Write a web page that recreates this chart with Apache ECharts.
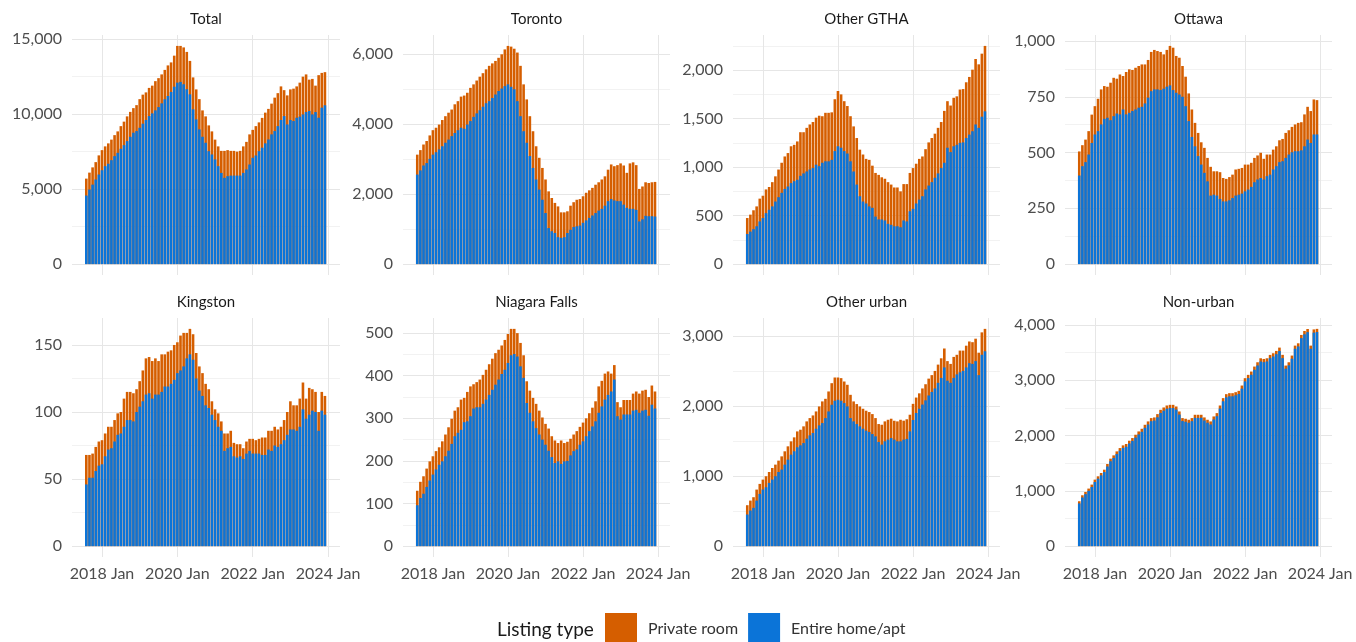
<!DOCTYPE html>
<html>
<head>
<meta charset="utf-8">
<title>Short-term rental listings by listing type</title>
<script src="https://cdn.jsdelivr.net/npm/echarts@6/dist/echarts.min.js"></script>
<style>
  html, body { margin: 0; padding: 0; background: #ffffff; }
  #chart { width: 1356px; height: 642px; }
</style>
</head>
<body>
<div id="chart"></div>
<script>
// Monthly active listings, Aug 2017 - Dec 2023.
const firstYear = 2017;
const firstMonth = 8;

const regionNames = ['Total', 'Toronto', 'Other GTHA', 'Ottawa', 'Kingston', 'Niagara Falls', 'Other urban', 'Non-urban'];
const seriesNames = ['Private room', 'Entire home/apt'];
const xTickLabels = ['2018 Jan', '2020 Jan', '2022 Jan', '2024 Jan'];
const yTickStep = [5000, 2000, 500, 250, 50, 100, 1000, 1000];

// All listings (height of each full bar) and entire-home listings (lower part).
const allTotal = [5700, 6100, 6450, 6800, 7250, 7600, 7850, 8050, 8300, 8600,
  8850, 9200, 9500, 9850, 10150, 10400, 10600, 11000, 11300, 11450,
  11750, 11900, 12200, 12400, 12650, 12950, 13250, 13450, 13900, 14550,
  14550, 14450, 14150, 13550, 12450, 11650, 11000, 10250, 9850, 9250,
  8850, 8300, 7850, 7550, 7550, 7600, 7550, 7550, 7500, 7550,
  7850, 8150, 8650, 8950, 9200, 9450, 9750, 10100, 10350, 10700,
  11100, 11400, 11850, 11600, 11250, 11650, 11700, 11850, 12100, 12500,
  12650, 12300, 12350, 11900, 12600, 12750, 12800];
const entireTotal = [4570, 4970, 5300, 5640, 5970, 6260, 6530, 6690, 6930, 7200,
  7420, 7690, 7930, 8200, 8490, 8760, 8870, 9090, 9360, 9610,
  9870, 10050, 10250, 10470, 10720, 10990, 11210, 11480, 11830, 12100,
  12150, 11990, 11660, 11320, 10320, 9650, 8980, 8490, 8090, 7530,
  7310, 6980, 6530, 6080, 5750, 5860, 5900, 5900, 5900, 5900,
  6080, 6310, 6640, 7090, 7240, 7530, 7760, 8050, 8310, 8650,
  8870, 9200, 9610, 9870, 9310, 9610, 9540, 9760, 9830, 9980,
  10140, 10210, 9980, 10140, 9760, 10430, 10590];

const allToronto = [3130, 3260, 3420, 3520, 3680, 3830, 3900, 3990, 4120, 4230,
  4330, 4420, 4570, 4660, 4790, 4820, 4900, 5040, 5140, 5250,
  5360, 5460, 5570, 5670, 5740, 5810, 5900, 6000, 6140, 6240,
  6220, 6160, 6050, 5670, 5140, 4710, 4230, 3800, 3370, 3040,
  2750, 2420, 2080, 1890, 1750, 1650, 1480, 1480, 1510, 1670,
  1770, 1840, 1860, 1940, 2040, 2110, 2180, 2270, 2340, 2420,
  2510, 2700, 2850, 2800, 2830, 2880, 2820, 2610, 2880, 2910,
  2830, 2150, 2220, 2340, 2320, 2340, 2350];
const entireToronto = [2560, 2680, 2820, 2890, 3010, 3130, 3200, 3280, 3370, 3470,
  3560, 3660, 3750, 3830, 3900, 3870, 3990, 4090, 4210, 4310,
  4400, 4500, 4600, 4660, 4750, 4850, 4950, 5020, 5090, 5140,
  5070, 5000, 4660, 4230, 3800, 3470, 3090, 2750, 2420, 2130,
  1840, 1460, 1030, 940, 890, 770, 750, 770, 890, 980,
  1060, 1080, 1100, 1180, 1250, 1320, 1390, 1460, 1530, 1580,
  1670, 1800, 1860, 1820, 1800, 1800, 1700, 1610, 1580, 1580,
  1550, 1220, 1280, 1380, 1370, 1370, 1360];

const allOtherGtha = [475, 510, 555, 595, 675, 705, 770, 795, 845, 905,
  975, 1045, 1110, 1145, 1215, 1230, 1265, 1360, 1360, 1405,
  1440, 1465, 1510, 1530, 1525, 1560, 1560, 1565, 1700, 1785,
  1750, 1680, 1630, 1525, 1420, 1300, 1180, 1130, 1085, 1075,
  1015, 940, 920, 895, 880, 845, 820, 790, 790, 750,
  825, 825, 940, 990, 1035, 1085, 1110, 1185, 1255, 1300,
  1345, 1405, 1465, 1580, 1680, 1635, 1715, 1730, 1800, 1805,
  1875, 1930, 2005, 2115, 2060, 2170, 2250];
const entireOtherGtha = [310, 335, 360, 390, 440, 475, 525, 560, 595, 645,
  690, 735, 775, 800, 835, 855, 870, 910, 935, 955,
  975, 990, 1025, 1010, 1045, 1060, 1060, 1075, 1165, 1215,
  1200, 1165, 1140, 1060, 955, 820, 700, 645, 625, 595,
  580, 490, 460, 460, 450, 415, 405, 390, 390, 380,
  450, 440, 545, 570, 625, 665, 700, 770, 810, 845,
  890, 935, 990, 1045, 1200, 1155, 1215, 1230, 1250, 1255,
  1300, 1335, 1370, 1440, 1405, 1520, 1575];

const allOttawa = [505, 533, 558, 596, 670, 708, 741, 783, 798, 795,
  813, 835, 831, 850, 843, 861, 873, 870, 880, 888,
  895, 895, 915, 951, 960, 955, 951, 940, 960, 978,
  970, 933, 925, 888, 840, 765, 693, 633, 588, 546,
  521, 476, 436, 416, 416, 412, 386, 382, 390, 401,
  424, 427, 431, 446, 446, 454, 476, 487, 499, 472,
  491, 491, 513, 528, 555, 561, 588, 600, 615, 626,
  633, 636, 671, 705, 686, 738, 735];
const entireOttawa = [397, 439, 457, 491, 543, 581, 596, 626, 651, 656,
  645, 663, 675, 671, 693, 671, 678, 686, 693, 701,
  705, 720, 746, 775, 783, 783, 780, 786, 795, 801,
  780, 768, 760, 750, 708, 641, 570, 528, 484, 446,
  409, 371, 307, 311, 307, 292, 281, 281, 286, 296,
  307, 311, 316, 326, 334, 346, 367, 379, 386, 379,
  394, 401, 424, 439, 457, 461, 476, 491, 501, 506,
  506, 510, 528, 558, 543, 581, 581];

const allKingston = [68, 68, 69, 74, 78, 79, 84, 89, 89, 94,
  99, 100, 110, 115, 115, 114, 117, 123, 131, 140,
  141, 138, 140, 138, 143, 143, 145, 146, 150, 152,
  157, 159, 159, 162, 158, 144, 134, 129, 121, 117,
  108, 102, 99, 93, 84, 84, 86, 77, 76, 76,
  73, 78, 80, 80, 79, 80, 81, 81, 86, 86,
  89, 87, 89, 94, 100, 108, 105, 105, 110, 122,
  110, 118, 117, 115, 100, 115, 112];
const entireKingston = [46, 51, 51, 56, 60, 61, 67, 72, 73, 78,
  83, 84, 89, 94, 94, 93, 100, 104, 108, 113,
  114, 110, 113, 113, 115, 119, 119, 121, 124, 129,
  131, 134, 140, 143, 139, 125, 116, 112, 105, 103,
  98, 94, 89, 86, 71, 73, 74, 67, 66, 67,
  65, 69, 71, 69, 69, 69, 68, 68, 72, 71,
  75, 74, 76, 79, 83, 87, 87, 86, 89, 102,
  95, 98, 101, 100, 86, 101, 98];

const allNiagara = [130, 151, 164, 182, 199, 211, 223, 232, 246, 262,
  279, 299, 318, 326, 344, 348, 362, 375, 380, 385,
  391, 402, 414, 427, 440, 453, 461, 471, 484, 498,
  510, 510, 500, 477, 448, 387, 365, 348, 334, 318,
  302, 287, 276, 258, 248, 242, 248, 242, 245, 252,
  262, 270, 280, 290, 300, 312, 325, 340, 375, 388,
  405, 410, 405, 425, 338, 326, 343, 343, 343, 358,
  363, 358, 365, 367, 350, 377, 363];
const entireNiagara = [96, 113, 123, 139, 154, 168, 180, 191, 199, 211,
  224, 240, 258, 266, 273, 291, 293, 305, 323, 326,
  326, 334, 344, 355, 367, 379, 391, 404, 414, 430,
  448, 451, 445, 422, 395, 336, 313, 293, 277, 262,
  250, 238, 224, 209, 195, 199, 193, 199, 200, 213,
  223, 227, 238, 246, 258, 270, 281, 293, 313, 328,
  344, 355, 363, 391, 305, 297, 309, 309, 309, 318,
  320, 313, 318, 320, 306, 332, 323];

const allOtherUrban = [584, 650, 698, 807, 888, 949, 997, 1058, 1115, 1163,
  1220, 1281, 1353, 1424, 1495, 1552, 1637, 1661, 1709, 1780,
  1827, 1865, 1922, 1993, 2065, 2102, 2207, 2325, 2406, 2406,
  2397, 2349, 2302, 2159, 2065, 2027, 1993, 1960, 1932, 1913,
  1884, 1827, 1742, 1732, 1780, 1803, 1818, 1789, 1780, 1803,
  1790, 1810, 1875, 2030, 2120, 2180, 2250, 2310, 2390, 2440,
  2500, 2590, 2680, 2820, 2640, 2600, 2700, 2730, 2790, 2790,
  2860, 2920, 2910, 2960, 2760, 3050, 3100];
const entireOtherUrban = [451, 508, 546, 650, 745, 807, 840, 902, 949, 997,
  1058, 1092, 1163, 1234, 1305, 1353, 1410, 1438, 1471, 1533,
  1580, 1614, 1675, 1723, 1756, 1827, 1922, 2017, 2074, 2088,
  2074, 2041, 1993, 1827, 1780, 1742, 1709, 1675, 1647, 1628,
  1599, 1566, 1486, 1448, 1495, 1519, 1542, 1519, 1495, 1495,
  1519, 1530, 1637, 1800, 1900, 1960, 2020, 2080, 2150, 2200,
  2250, 2330, 2400, 2550, 2360, 2330, 2400, 2450, 2480, 2500,
  2550, 2610, 2600, 2640, 2440, 2730, 2780];

const allNonUrban = [812, 920, 980, 1041, 1113, 1203, 1263, 1323, 1383, 1486,
  1582, 1642, 1714, 1774, 1823, 1847, 1907, 1955, 2015, 2075,
  2123, 2195, 2256, 2316, 2328, 2388, 2466, 2508, 2544, 2556,
  2556, 2526, 2436, 2316, 2304, 2286, 2316, 2376, 2376, 2376,
  2328, 2286, 2256, 2346, 2406, 2544, 2677, 2749, 2767, 2767,
  2785, 2809, 2905, 3038, 3098, 3158, 3248, 3326, 3398, 3386,
  3398, 3459, 3489, 3531, 3591, 3460, 3266, 3326, 3447, 3627,
  3669, 3820, 3891, 3928, 3627, 3920, 3930];
const entireNonUrban = [772, 880, 940, 1000, 1070, 1160, 1220, 1280, 1340, 1440,
  1535, 1595, 1665, 1725, 1775, 1797, 1857, 1903, 1963, 2020,
  2068, 2140, 2200, 2260, 2272, 2330, 2408, 2450, 2485, 2497,
  2497, 2470, 2380, 2262, 2250, 2232, 2260, 2320, 2320, 2322,
  2273, 2232, 2200, 2290, 2350, 2488, 2620, 2692, 2710, 2710,
  2728, 2752, 2848, 2980, 3040, 3100, 3190, 3268, 3340, 3328,
  3340, 3400, 3430, 3472, 3530, 3400, 3210, 3270, 3390, 3570,
  3612, 3762, 3832, 3870, 3570, 3862, 3872];

const panelAll = [allTotal, allToronto, allOtherGtha, allOttawa, allKingston, allNiagara, allOtherUrban, allNonUrban];
const panelEntire = [entireTotal, entireToronto, entireOtherGtha, entireOttawa, entireKingston, entireNiagara, entireOtherUrban, entireNonUrban];

// ---- styling and layout ----
const FONT = 'Lato, "Noto Sans", sans-serif';
const COLOR_PRIVATE = '#D55E00';
const COLOR_ENTIRE = '#0B74D8';
const GRID_MAJOR = '#E6E6E6';
const GRID_MINOR = '#F2F2F2';
const TICK_TEXT = '#4D4D4D';

const colLeft = [72, 403, 733, 1065];
const colWidth = [268, 267, 267, 267];
const rowTop = [35, 318];
const rowHeight = [240, 239];
const xMin = -9.56;   // months relative to Jan 2018
const xMax = 75.8;

// month offset (from Jan 2018) of each bar
const monthOffset = (i) => (firstYear - 2018) * 12 + (firstMonth - 1) + i;
const xTickValues = xTickLabels.map(s => (parseInt(s, 10) - 2018) * 12);
const fmtThousands = (v) => Math.round(v).toLocaleString('en-US');

const grids = [], xAxes = [], yAxes = [], series = [], graphics = [];

regionNames.forEach((name, k) => {
  const row = Math.floor(k / 4), col = k % 4;
  const all = panelAll[k], entire = panelEntire[k];
  const peak = Math.max(...all);
  const step = yTickStep[k];
  const yTicks = [];
  for (let v = 0; v <= peak * 1.05; v += step) yTicks.push(v);

  grids.push({
    left: colLeft[col], top: rowTop[row], width: colWidth[col], height: rowHeight[row],
    containLabel: false, outerBoundsMode: 'none'
  });

  xAxes.push({
    gridIndex: k, type: 'value', min: xMin, max: xMax,
    axisLine: { show: false },
    axisTick: { show: false, customValues: xTickValues },
    axisLabel: {
      show: row === 1, customValues: xTickValues, margin: 9,
      fontFamily: FONT, fontSize: 16, color: TICK_TEXT,
      formatter: (v) => xTickLabels[xTickValues.indexOf(v)] || ''
    },
    splitLine: { show: true, lineStyle: { color: GRID_MAJOR, width: 1 } }
  });

  yAxes.push({
    gridIndex: k, type: 'value',
    min: -0.05 * peak, max: 1.05 * peak,
    minInterval: step, maxInterval: step,
    axisLine: { show: false },
    axisTick: { show: false, customValues: yTicks },
    axisLabel: {
      customValues: yTicks, margin: 10,
      fontFamily: FONT, fontSize: 16, color: TICK_TEXT,
      formatter: fmtThousands
    },
    splitLine: { show: true, lineStyle: { color: GRID_MAJOR, width: 1 } },
    minorTick: { show: false, splitNumber: 2 },
    minorSplitLine: { show: true, lineStyle: { color: GRID_MINOR, width: 1 } }
  });

  // full bar (private room on top) drawn first, entire-home part overlaid from the baseline
  series.push({
    name: seriesNames[0], type: 'bar', xAxisIndex: k, yAxisIndex: k,
    barWidth: 2.6, barGap: '-100%',
    itemStyle: { color: COLOR_PRIVATE },
    data: all.map((v, i) => [monthOffset(i), v])
  });
  series.push({
    name: seriesNames[1], type: 'bar', xAxisIndex: k, yAxisIndex: k,
    barWidth: 2.6, barGap: '-100%',
    itemStyle: { color: COLOR_ENTIRE },
    data: entire.map((v, i) => [monthOffset(i), v])
  });

  graphics.push({
    type: 'text',
    x: colLeft[col] + colWidth[col] / 2,
    y: rowTop[row] - 16,
    style: { text: name, fontFamily: FONT, fontSize: 15, fill: '#1A1A1A', align: 'center', verticalAlign: 'middle' }
  });
});

graphics.push({
  type: 'text', x: 497, y: 630,
  style: { text: 'Listing type', fontFamily: FONT, fontSize: 19, fill: '#1A1A1A', align: 'left', verticalAlign: 'middle' }
});

const chart = echarts.init(document.getElementById('chart'), null, { renderer: 'canvas' });
chart.setOption({
  animation: false,
  backgroundColor: '#ffffff',
  grid: grids,
  xAxis: xAxes,
  yAxis: yAxes,
  series: series,
  graphic: graphics,
  legend: {
    data: seriesNames,
    left: 605, top: 613, padding: 0,
    icon: 'rect', itemWidth: 32, itemHeight: 32, itemGap: 10,
    selectedMode: false,
    textStyle: { fontFamily: FONT, fontSize: 16, color: '#333333', padding: [0, 0, 0, 6] }
  }
});
</script>
</body>
</html>
